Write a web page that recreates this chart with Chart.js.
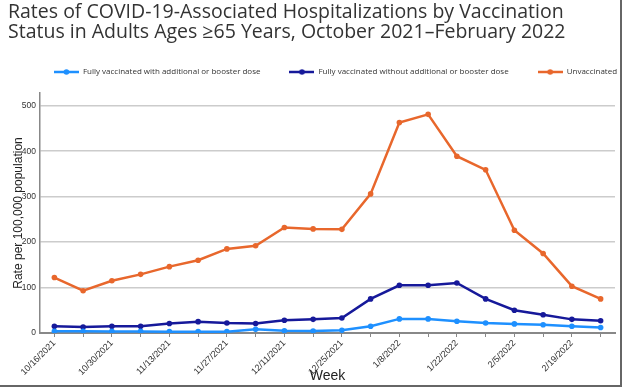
<!DOCTYPE html>
<html>
<head>
<meta charset="utf-8">
<script src="https://cdn.jsdelivr.net/npm/chart.js@4/dist/chart.umd.min.js"></script>
<style>
  html, body { margin: 0; padding: 0; background: #ffffff; }
  #wrap { position: relative; width: 624px; height: 388px; }
  #frame { position: absolute; left: 0; top: 0; width: 620px; height: 385px;
           border-right: 2px solid #666; border-bottom: 2px solid #666; pointer-events: none; }
</style>
</head>
<body>
<div id="wrap">
  <canvas id="c" width="624" height="388"></canvas>
  <div id="frame"></div>
</div>
<script>
const chartTitle = ['Rates of COVID-19-Associated Hospitalizations by Vaccination',
                    'Status in Adults Ages \u226565 Years, October 2021\u2013February 2022'];
const weeks = ['10/16/2021','10/23/2021','10/30/2021','11/6/2021','11/13/2021','11/20/2021','11/27/2021',
               '12/4/2021','12/11/2021','12/18/2021','12/25/2021','1/1/2022','1/8/2022','1/15/2022',
               '1/22/2022','1/29/2022','2/5/2022','2/12/2022','2/19/2022','2/26/2022'];
const seriesNames = ['Fully vaccinated with additional or booster dose',
                     'Fully vaccinated without additional or booster dose',
                     'Unvaccinated'];
const boosted   = [4, 4, 3.5, 3.5, 3, 3, 3, 8, 5, 4.5, 6, 15, 31, 31, 26, 22, 20, 18, 15, 12];
const noBooster = [15, 13, 15, 15, 21, 25, 22, 21, 28, 30, 33, 75, 105, 105, 110, 75, 50, 40, 30, 27];
const unvaccinated = [122, 93, 115, 129, 146, 160, 185, 192, 232, 229, 228, 306, 463, 481, 389, 359, 226, 175, 103, 75];
const yTicks = [0, 100, 200, 300, 400, 500];
const yTitle = 'Rate per 100,000 population';
const xTitle = 'Week';

const colors = ['#1E90FF', '#16199A', '#E8672C'];

function legendMarker(color) {
  const cv = document.createElement('canvas');
  cv.width = 25; cv.height = 8;
  const g = cv.getContext('2d');
  g.strokeStyle = color; g.lineWidth = 2.5;
  g.beginPath(); g.moveTo(0, 4); g.lineTo(25, 4); g.stroke();
  g.fillStyle = color;
  g.beginPath(); g.arc(12.5, 4, 2.8, 0, Math.PI * 2); g.fill();
  return cv;
}

const legendExtra = {
  id: 'legendExtra',
  afterInit(chart) {
    const lg = chart.legend;
    if (!lg) return;
    const orig = lg.fit.bind(lg);
    lg.fit = function () {
      const mw = this.maxWidth;
      this.maxWidth = mw + 200;
      orig();
      this.maxWidth = mw;
      this.width = Math.min(this.width, mw);
      this.height += 7;
    };
  },
  afterLayout(chart) {
    const lg = chart.legend;
    if (!lg) return;
    lg.left += 8; lg.right += 40;
  }
};

const allSeries = [boosted, noBooster, unvaccinated];
const datasets = allSeries.map((d, i) => ({
  label: seriesNames[i],
  data: d,
  borderColor: colors[i],
  backgroundColor: colors[i],
  pointBackgroundColor: colors[i],
  pointBorderColor: colors[i],
  borderWidth: 2.5,
  pointRadius: 2.8,
  pointBorderWidth: 0,
  tension: 0
}));

new Chart(document.getElementById('c'), {
  type: 'line',
  data: { labels: weeks, datasets },
  plugins: [legendExtra],
  options: {
    responsive: false,
    animation: false,
    layout: { padding: { left: 8, right: 9, top: 0, bottom: 0 } },
    plugins: {
      tooltip: { enabled: false },
      title: {
        display: true, text: chartTitle, align: 'start', color: '#333333',
        font: { family: 'Open Sans', size: 19.5, lineHeight: 1.0, weight: 'normal' },
        padding: { top: 3, bottom: -3 }
      },
      legend: {
        display: true, position: 'top', align: 'center',
        labels: {
          usePointStyle: true, pointStyleWidth: 25, padding: 29, color: '#333333',
          font: { family: 'Open Sans', size: 8 },
          generateLabels(chart) {
            return chart.data.datasets.map((ds, i) => ({
              text: ds.label, fillStyle: colors[i], strokeStyle: colors[i], lineWidth: 0,
              pointStyle: legendMarker(colors[i]), datasetIndex: i, hidden: false, fontColor: '#333333'
            }));
          }
        }
      }
    },
    scales: {
      x: {
        offset: true,
        afterFit(s) { s.height = 55; },
        grid: { display: true, drawOnChartArea: false, drawTicks: true, tickLength: 4, color: '#888888', lineWidth: 1 },
        border: { display: true, color: '#888888', width: 2 },
        ticks: {
          autoSkip: false, maxRotation: 45, minRotation: 45, padding: 1, color: '#333333',
          font: { family: 'Liberation Sans', size: 9 },
          callback(v, i) { return i % 2 === 0 ? weeks[i] : ''; }
        },
        title: { display: true, text: xTitle, color: '#222222',
                 font: { family: 'Liberation Sans', size: 14 }, padding: { top: 0, bottom: 3 } }
      },
      y: {
        min: 0, max: 528,
        afterFit(s) { s.width = 32; },
        afterBuildTicks(s) { s.ticks = yTicks.map(v => ({ value: v })); },
        grid: { display: true, drawTicks: false, color: '#cccccc', lineWidth: 1.5 },
        border: { display: true, color: '#888888', width: 1.5 },
        ticks: { padding: 4, color: '#333333', font: { family: 'Liberation Sans', size: 8.5 }, includeBounds: false },
        title: { display: true, text: yTitle, color: '#222222',
                 font: { family: 'Liberation Sans', size: 12 }, padding: { top: 3, bottom: 0 } }
      }
    }
  }
});
</script>
</body>
</html>
